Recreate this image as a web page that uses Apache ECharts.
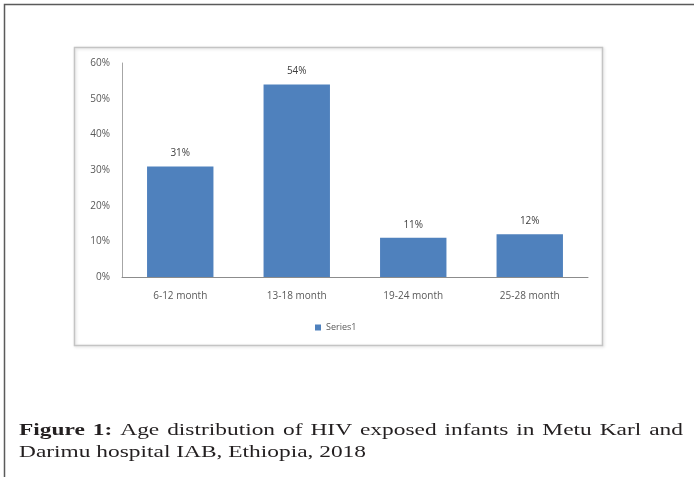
<!DOCTYPE html>
<html>
<head>
<meta charset="utf-8">
<script src="https://cdn.jsdelivr.net/npm/echarts@6/dist/echarts.min.js"></script>
<style>
  html, body { margin: 0; padding: 0; background: #fff; }
  #chart { width: 694px; height: 477px; }
</style>
</head>
<body>
<div id="chart"></div>
<script>
// Age groups and share of infants (%) in each
const categories = ['6-12 month', '13-18 month', '19-24 month', '25-28 month'];
const shares = [31, 54, 11, 12];
const seriesName = 'Series1';
const yTicks = { min: 0, max: 60, step: 10 };

const captionBold = ['Figure', '1:'];
const captionLine1 = 'Age distribution of HIV exposed infants in Metu Karl and';
const captionLine2 = 'Darimu hospital IAB, Ethiopia, 2018';

const chart = echarts.init(document.getElementById('chart'), null, { renderer: 'canvas' });

// Caption: a wide old-style serif look, made by stretching a serif face horizontally;
// the first line is justified between the text margins.
const capFamily = '"Liberation Serif", "DejaVu Serif", serif';
const capFont = '17px ' + capFamily;
const capBoldFont = 'bold 17px ' + capFamily;
const ctx = document.createElement('canvas').getContext('2d');
function measure(t, f) { ctx.font = f; return ctx.measureText(t).width; }

const capLeft = 19, capRight = 683, capTop1 = 422, capTop2 = 444;
const line2Width = 347;
const sx = line2Width / measure(captionLine2, capFont);

const words1 = captionBold.map(w => ({ t: w, b: true }))
  .concat(captionLine1.split(' ').map(w => ({ t: w, b: false })));
const widths = words1.map(w => measure(w.t, w.b ? capBoldFont : capFont) * sx);
const total = widths.reduce((a, b) => a + b, 0);
const gap = (capRight - capLeft - total) / (words1.length - 1);
const captionEls = [];
let cx = capLeft;
words1.forEach((w, i) => {
  captionEls.push({
    type: 'text', x: cx, y: capTop1, scaleX: sx, silent: true,
    style: { text: w.t, font: w.b ? capBoldFont : capFont, fill: '#231f20', verticalAlign: 'top' }
  });
  cx += widths[i] + gap;
});
captionEls.push({
  type: 'text', x: capLeft, y: capTop2, scaleX: sx, silent: true,
  style: { text: captionLine2, font: capFont, fill: '#231f20', verticalAlign: 'top' }
});

const axisFont = { fontFamily: '"Open Sans", "DejaVu Sans", sans-serif', fontSize: 10, color: '#595959' };

chart.setOption({
  animation: false,
  backgroundColor: '#fff',
  grid: { left: 122, right: 106, top: 63, bottom: 200 },
  legend: {
    data: [seriesName],
    left: 310, top: 318,
    icon: 'rect', itemWidth: 6, itemHeight: 6, itemGap: 4,
    textStyle: { fontFamily: axisFont.fontFamily, fontSize: 9, color: '#595959' }
  },
  xAxis: {
    type: 'category',
    data: categories,
    axisTick: { show: false },
    axisLine: { lineStyle: { color: '#8c8c8c', width: 1 } },
    axisLabel: Object.assign({ margin: 14 }, axisFont)
  },
  yAxis: {
    type: 'value',
    min: yTicks.min, max: yTicks.max, interval: yTicks.step,
    splitLine: { show: false },
    axisTick: { show: false },
    axisLine: { show: true, lineStyle: { color: '#a6a6a6', width: 1 } },
    axisLabel: Object.assign({ formatter: '{value}%', margin: 12 }, axisFont)
  },
  series: [{
    name: seriesName,
    type: 'bar',
    data: shares,
    barWidth: '57%',
    itemStyle: { color: '#4f81bd' },
    label: {
      show: true, position: 'top', distance: 8,
      formatter: '{c}%',
      fontFamily: axisFont.fontFamily, fontSize: 10, color: '#404040'
    }
  }],
  graphic: [
    // outer figure frame
    { type: 'polyline', shape: { points: [[4.5, 477], [4.5, 4.5], [694, 4.5]] },
      style: { stroke: '#5a5a5a', lineWidth: 1.5, fill: null }, silent: true },
    // chart box
    { type: 'rect', shape: { x: 74.5, y: 47.5, width: 528, height: 298 },
      style: { stroke: '#c4c4c4', lineWidth: 1.5, fill: null,
               shadowBlur: 3, shadowColor: 'rgba(0,0,0,0.15)', shadowOffsetX: 1, shadowOffsetY: 1 },
      z: -1, silent: true }
  ].concat(captionEls)
});
</script>
</body>
</html>
